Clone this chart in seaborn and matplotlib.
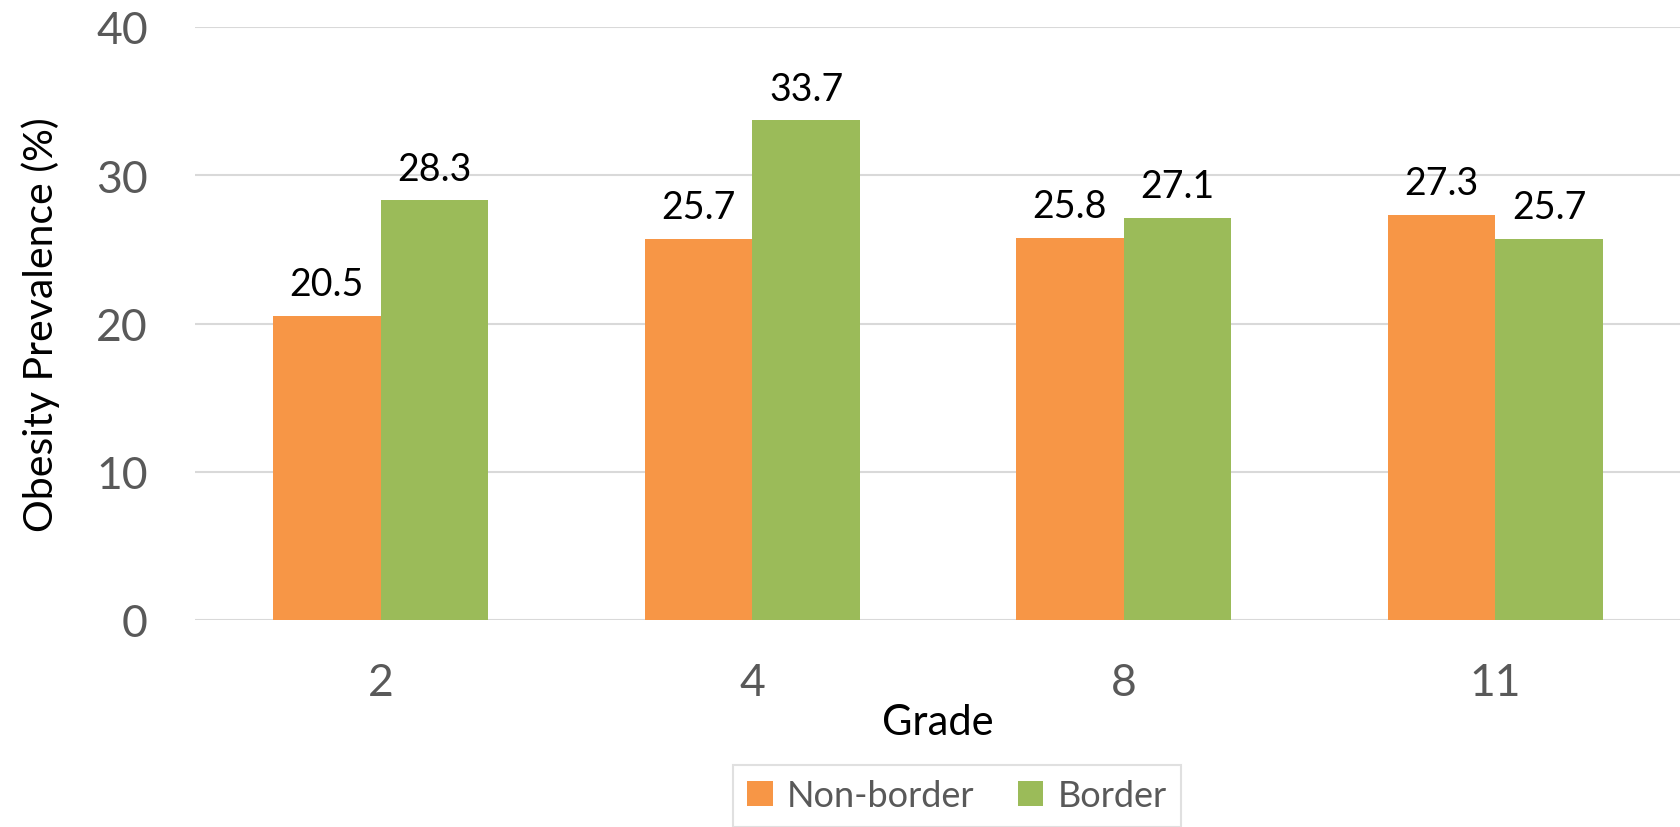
import pandas as pd
import seaborn as sns
import matplotlib.pyplot as plt

grades = ["2", "4", "8", "11"]
non_border = [20.5, 25.7, 25.8, 27.3]
border = [28.3, 33.7, 27.1, 25.7]
groups = ["Non-border", "Border"]

df = pd.DataFrame({
    "grade": grades * 2,
    "group": [groups[0]] * 4 + [groups[1]] * 4,
    "value": non_border + border,
})

sns.set_style("white")
plt.rcParams["font.family"] = ["Lato", "DejaVu Sans"]

fig = plt.figure(figsize=(16.81, 8.28), dpi=100)
ax = fig.add_axes([195 / 1681, 1 - 621 / 828, 1 - 195 / 1681, (621 - 28) / 828])

sns.barplot(data=df, x="grade", y="value", hue="group", order=grades,
            hue_order=groups, palette=["#F79646", "#9BBB59"], width=0.58,
            saturation=1, linewidth=0, ax=ax, legend=True)

for c in ax.containers:
    ax.bar_label(c, fmt="%.1f", padding=10, fontsize=27, color="black")

ax.set_ylim(0, 40)
ax.set_xlim(-0.5, 3.5)
ax.set_yticks([0, 10, 20, 30, 40])
ax.yaxis.grid(True, color="#d9d9d9", linewidth=1.5)
ax.set_axisbelow(True)
for s in ax.spines.values():
    s.set_visible(False)
ax.tick_params(axis="both", length=0, labelsize=32, colors="#595959")
ax.tick_params(axis="y", pad=34)
ax.tick_params(axis="x", pad=30)
ax.set_xlabel("Grade", fontsize=30, color="black", labelpad=0)
ax.set_ylabel("Obesity Prevalence (%)", fontsize=29.5, color="black", labelpad=26)

ax.legend_.remove()
leg = fig.legend(*ax.get_legend_handles_labels(), loc="upper center",
                 bbox_to_anchor=(957 / 1681, 1 - 766 / 828), ncol=2,
                 fontsize=26, frameon=True, fancybox=False, borderpad=0.4,
                 borderaxespad=0, handlelength=0.7, handleheight=0.7,
                 handletextpad=0.4, columnspacing=1.2, labelcolor="#595959")
leg.get_frame().set_edgecolor("#d9d9d9")
leg.get_frame().set_linewidth(1.5)

plt.savefig("out.png", dpi=100)
